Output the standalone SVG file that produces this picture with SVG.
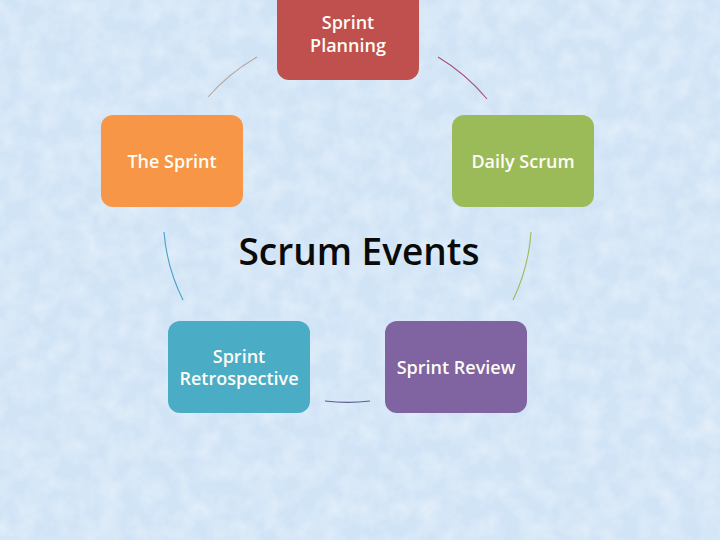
<svg xmlns="http://www.w3.org/2000/svg" width="720" height="540" viewBox="0 0 720 540">
  <defs>
    <filter id="tex" x="0" y="0" width="100%" height="100%">
      <feTurbulence type="fractalNoise" baseFrequency="0.05" numOctaves="3" seed="7" result="n"/>
      <feColorMatrix in="n" type="matrix" values="0 0 0 0 1  0 0 0 0 1  0 0 0 0 1  0 0 0 -1.6 1.05"/>
    </filter>
    <style>
      .node text { font-family: "Open Sans", "Noto Sans", sans-serif; font-size: 18px; font-weight: 600; fill: #fffdf6; text-anchor: middle; }
      .box { stroke: none; }
      .arc { fill: none; stroke-width: 1.1; }
    </style>
  </defs>
  <rect width="720" height="540" fill="#d1e4f6"/>
  <rect width="720" height="540" filter="url(#tex)" opacity="0.4"/>

  <text x="359" y="265" font-family="Open Sans, Noto Sans, sans-serif" font-size="37" font-weight="600" fill="#0a0a0a" text-anchor="middle">Scrum Events</text>

  <g id="connectors">
    <path class="arc" d="M208 97 A190 190 0 0 1 257 57" stroke="#b8a498"/>
    <path class="arc" d="M438 57 A190 190 0 0 1 487 99" stroke="#a8507a"/>
    <path class="arc" d="M531 232 A185 185 0 0 1 513 300" stroke="#9bbb59"/>
    <path class="arc" d="M370 401 A185 185 0 0 1 325 401" stroke="#5f5a98"/>
    <path class="arc" d="M183 300 A185 185 0 0 1 164 232" stroke="#4b9fc6"/>
  </g>

  <g id="sprint-planning" class="node">
    <rect class="box" x="277" y="-12" width="142" height="92" rx="12" fill="#c0504d"/>
    <text x="348" y="29">Sprint</text>
    <text x="348" y="52">Planning</text>
  </g>
  <g id="daily-scrum" class="node">
    <rect class="box" x="452" y="115" width="142" height="92" rx="12" fill="#9bbb59"/>
    <text x="523" y="168">Daily Scrum</text>
  </g>
  <g id="sprint-review" class="node">
    <rect class="box" x="385" y="321" width="142" height="92" rx="12" fill="#8064a2"/>
    <text x="456" y="374">Sprint Review</text>
  </g>
  <g id="sprint-retrospective" class="node">
    <rect class="box" x="168" y="321" width="142" height="92" rx="12" fill="#4bacc6"/>
    <text x="239" y="363">Sprint</text>
    <text x="239" y="385">Retrospective</text>
  </g>
  <g id="the-sprint" class="node">
    <rect class="box" x="101" y="115" width="142" height="92" rx="12" fill="#f79646"/>
    <text x="172" y="168">The Sprint</text>
  </g>
</svg>
